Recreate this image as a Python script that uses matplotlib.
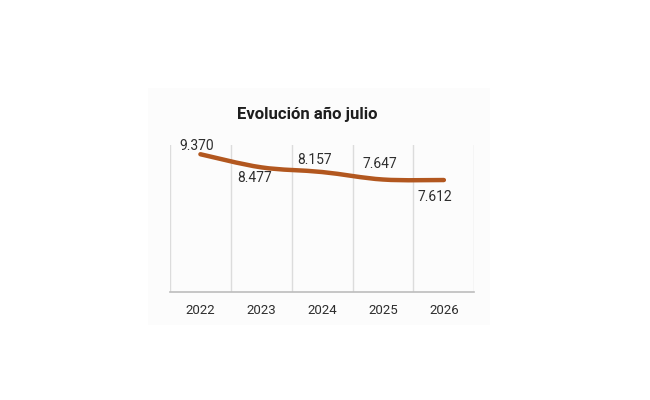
import matplotlib
matplotlib.use("Agg")
import matplotlib.pyplot as plt
from matplotlib.patches import PathPatch, Rectangle
from matplotlib.path import Path

years = ["2022", "2023", "2024", "2025", "2026"]
values = [9370, 8477, 8157, 7647, 7612]
value_labels = ["9.370", "8.477", "8.157", "7.647", "7.612"]
# label offsets in pixels relative to each point (Excel-ish placement)
label_offsets = [(-4, 8), (-7, -11), (-8, 12), (-3, 16), (-9, -17)]

LINE = "#B2571F"
TXT = "#2e2e2e"

plt.rcParams["font.family"] = ["Roboto", "DejaVu Sans"]

fig = plt.figure(figsize=(6.5, 4.0), dpi=100)
fig.patch.set_facecolor("white")
fig.patches.append(Rectangle((148 / 650, 1 - 325 / 400), 342 / 650, 237 / 400,
                             transform=fig.transFigure, facecolor="#FCFCFC",
                             edgecolor="none", zorder=-5))

ax = fig.add_axes([170 / 650, 1 - 291.7 / 400, 304.3 / 650, 146.7 / 400])
ax.set_facecolor("none")
ax.set_zorder(2)
xs = list(range(len(years)))

# smoothed line (Catmull-Rom -> cubic Bezier), like Excel's smoothed line
verts = [(xs[0], values[0])]
codes = [Path.MOVETO]
for i in range(len(xs) - 1):
    p0 = (xs[max(i - 1, 0)], values[max(i - 1, 0)])
    p1 = (xs[i], values[i])
    p2 = (xs[i + 1], values[i + 1])
    p3 = (xs[min(i + 2, len(xs) - 1)], values[min(i + 2, len(xs) - 1)])
    c1 = (p1[0] + (p2[0] - p0[0]) / 6, p1[1] + (p2[1] - p0[1]) / 6)
    c2 = (p2[0] - (p3[0] - p1[0]) / 6, p2[1] - (p3[1] - p1[1]) / 6)
    verts += [c1, c2, p2]
    codes += [Path.CURVE4] * 3
ax.add_patch(PathPatch(Path(verts, codes), facecolor="none", edgecolor=LINE,
                       lw=3.2, capstyle="round", zorder=3))

for x, v, lab, off in zip(xs, values, value_labels, label_offsets):
    ax.annotate(lab, (x, v), xytext=off, textcoords="offset pixels",
                ha="center", va="center", fontsize=10, color=TXT, zorder=4)

ax.set_xlim(-0.5, len(years) - 0.5)
ax.set_ylim(0, 10000)
ax.set_xticks(xs, years, fontsize=9.5, color=TXT)
ax.set_xticks([x - 0.5 for x in xs] + [len(xs) - 0.5], minor=True)
ax.tick_params(axis="x", which="both", length=0, pad=9)
ax.set_yticks([])
ax.grid(which="minor", axis="x", color="#DCDCDC", lw=1)
ax.grid(which="major", visible=False)
for s in ("top", "left", "right"):
    ax.spines[s].set_visible(False)
ax.spines["bottom"].set_color("#BDBDBD")
ax.spines["bottom"].set_linewidth(1.2)

fig.text(307 / 650, 1 - 114 / 400, "Evolución año julio", ha="center", va="center",
         fontsize=12, fontweight="bold", color="#1e1e1e")

fig.savefig("out.png", dpi=100)
